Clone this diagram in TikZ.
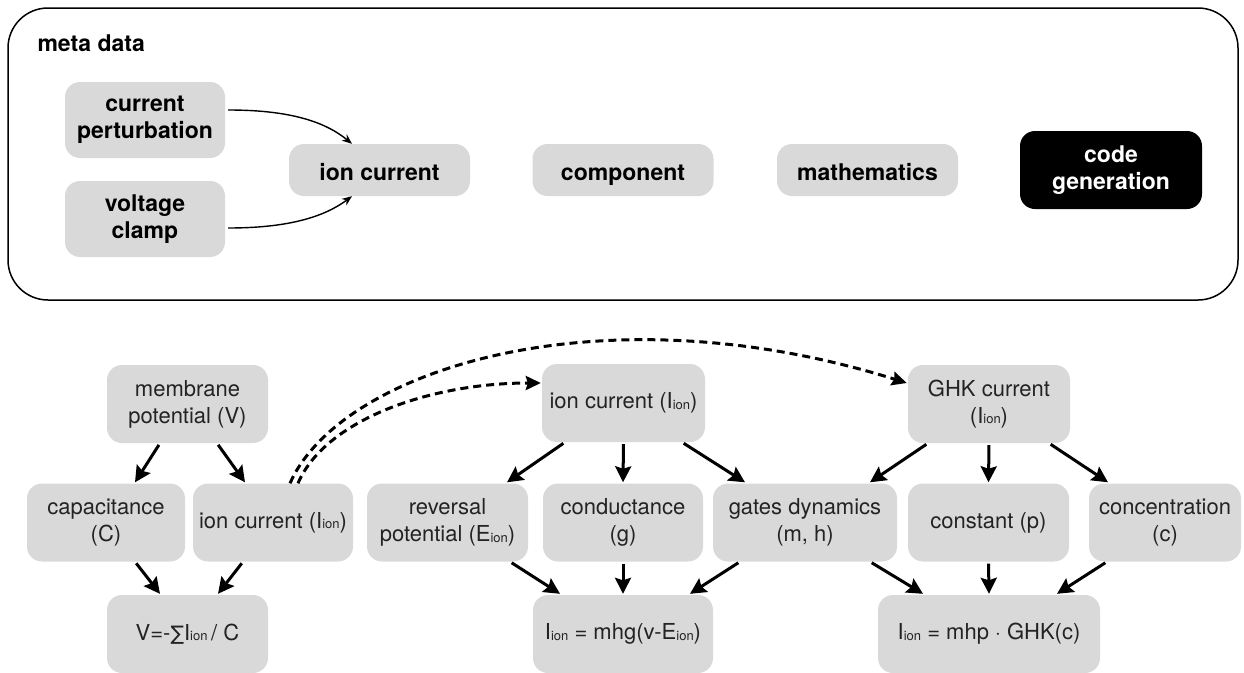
\documentclass[tikz,border=0pt]{standalone}
\usepackage{fontspec}
\setmainfont{TeX Gyre Heros}
\newfontfamily\symfont{DejaVu Sans}
\usetikzlibrary{arrows.meta,calc}
\definecolor{boxgray}{RGB}{217,217,217}
\definecolor{txtgray}{RGB}{35,35,35}
\newcommand{\ionsub}{\raisebox{-0.5pt}{\fontsize{13}{13}\selectfont ion}}

\begin{document}
\begin{tikzpicture}[x=1pt,y=-1pt,
  metabox/.style={rectangle, rounded corners=15pt, fill=boxgray, inner sep=0pt,
    align=center, font=\fontsize{23}{26.5}\selectfont\bfseries},
  pillbox/.style={metabox, minimum width=181pt, minimum height=52pt,
    text height=20pt, text depth=0pt},
  codebox/.style={metabox, fill=black, text=white},
  modelbox/.style={rectangle, rounded corners=15pt, fill=boxgray, inner sep=0pt,
    align=center, text=txtgray, font=\fontsize{22}{27}\selectfont, minimum height=78pt},
  thinarrow/.style={line width=1.4pt, -{Stealth[length=10pt,width=8pt]}},
  deparrow/.style={line width=3pt, -{Stealth[length=16pt,width=16pt,inset=2.5pt]}, shorten <=2pt},
  linkarrow/.style={line width=3pt, dash pattern=on 8pt off 5pt,
    -{Stealth[length=15pt,width=14pt,inset=2pt]}},
]
\useasboundingbox (0,0) rectangle (1244,672);

% ---- meta data panel ----
\draw[line width=1.5pt, rounded corners=40pt] (8,8) rectangle (1238,300);
\node[anchor=west, font=\fontsize{23}{26}\selectfont\bfseries] (meta) at (34,43) {meta data};

\node[metabox, minimum width=160pt, minimum height=76pt] (cp) at (145,120) {current\\perturbation};
\node[metabox, minimum width=160pt, minimum height=76pt] (vc) at (145,219) {voltage\\clamp};
\node[pillbox] (ic) at (379.5,170) {ion current};
\node[pillbox] (comp) at (623,170) {component};
\node[pillbox] (math) at (867.5,170) {mathematics};
\node[codebox, minimum width=182pt, minimum height=78pt] (code) at (1111,170) {code\\generation};

\draw[thinarrow] ($(cp.east)+(3,-10)$) .. controls +(62,0) and +(-27,-22) .. ($(ic.north)+(-27.5,0)$);
\draw[thinarrow] ($(vc.east)+(3,9)$) .. controls +(62,0) and +(-27,20) .. ($(ic.south)+(-27.5,0)$);

% ---- membrane equation ----
\node[modelbox, minimum width=161pt] (mem) at (187.5,404) {membrane\\potential (V)};
\node[modelbox, minimum width=158pt] (cap) at (106,522.5) {capacitance\\(C)};
\node[modelbox, minimum width=160pt] (ion1) at (273,522.5) {ion current (I\ionsub)};
\node[modelbox, minimum width=161pt] (vsum) at (187.5,634) {V=-{\symfont\fontsize{20}{20}\selectfont∑}I\ionsub\,/ C};

% ---- ohmic ion current ----
\node[modelbox, minimum width=163pt] (ion2) at (623.5,403) {ion current (I\ionsub)};
\node[modelbox, minimum width=161pt] (rev) at (447.5,522.5) {reversal\\potential (E\ionsub)};
\node[modelbox, minimum width=160pt] (cond) at (623,522.5) {conductance\\(g)};
\node[modelbox, minimum width=184pt] (gates) at (805,522.5) {gates dynamics\\(m, h)};
\node[modelbox, minimum width=180pt] (ohm) at (623,634) {I\ionsub{} = mhg(v-E\ionsub)};

% ---- GHK current ----
\node[modelbox, minimum width=162pt] (ghk) at (989,404) {GHK current\\(I\ionsub)};
\node[modelbox, minimum width=161pt] (const) at (988.5,522.5) {constant (p)};
\node[modelbox, minimum width=152pt] (conc) at (1165,522.5) {concentration\\(c)};
\node[modelbox, minimum width=222pt] (ghkeq) at (989,634) {I\ionsub{} = mhp $\cdot$ GHK(c)};

% ---- dependencies ----
\draw[deparrow] ($(mem.south)+(-27.5,0)$) -- ($(cap.north)+(29,-1)$);
\draw[deparrow] ($(mem.south)+(29.5,0)$) -- ($(ion1.north)+(-28,-1)$);
\draw[deparrow] ($(cap.south)+(29,0)$) -- ($(vsum.north)+(-27.5,-1)$);
\draw[deparrow] ($(ion1.south)+(-30,0)$) -- ($(vsum.north)+(30.5,-1)$);

\draw[deparrow] ($(ion2.south)+(-58.5,0)$) -- ($(rev.north)+(59.5,-1)$);
\draw[deparrow] (ion2.south) -- ($(cond.north)+(0,-1)$);
\draw[deparrow] ($(ion2.south)+(58.5,0)$) -- ($(gates.north)+(-60,-1)$);
\draw[deparrow] ($(rev.south)+(62.5,0)$) -- ($(ohm.north)+(-63,-1)$);
\draw[deparrow] (cond.south) -- ($(ohm.north)+(0,-1)$);
\draw[deparrow] ($(gates.south)+(-65,0)$) -- ($(ohm.north)+(67,-1)$);

\draw[deparrow] ($(ghk.south)+(-61,0)$) -- ($(gates.north)+(65,-1)$);
\draw[deparrow] (ghk.south) -- ($(const.north)+(0,-1)$);
\draw[deparrow] ($(ghk.south)+(60,0)$) -- ($(conc.north)+(-57,-1)$);
\draw[deparrow] ($(gates.south)+(65,0)$) -- ($(ghkeq.north)+(-66,-1)$);
\draw[deparrow] (const.south) -- ($(ghkeq.north)+(0,-1)$);
\draw[deparrow] ($(conc.south)+(-58,0)$) -- ($(ghkeq.north)+(68,-1)$);

% ---- links to the current models ----
\draw[linkarrow] ($(ion1.north)+(25,0)$) .. controls (325,420) and (430,383) .. ($(ion2.west)+(-1,-20)$);
\draw[linkarrow] ($(ion1.north)+(17,0)$) .. controls (340,370) and (600,287) .. ($(ghk.west)+(-1,-21)$);

\end{tikzpicture}
\end{document}
